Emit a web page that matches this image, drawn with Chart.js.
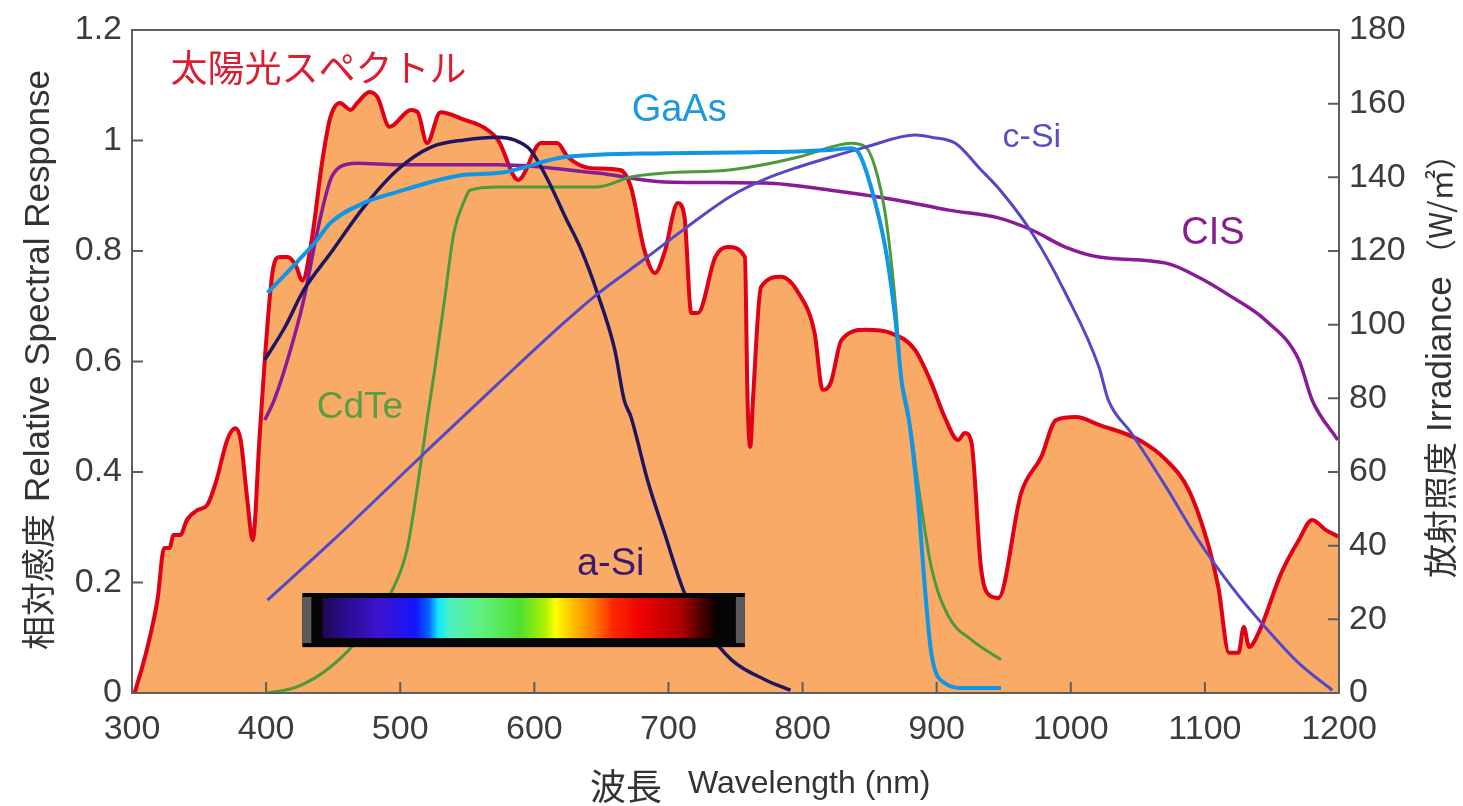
<!DOCTYPE html>
<html lang="ja">
<head>
<meta charset="utf-8">
<title>太陽光スペクトルと太陽電池の分光感度</title>
<script src="https://cdn.jsdelivr.net/npm/chart.js@4.4.1/dist/chart.umd.min.js"></script>
<style>
  html, body { margin: 0; padding: 0; background: #fff; }
  #wrap { width: 1463px; height: 806px; }
</style>
</head>
<body>
<div id="wrap"><canvas id="spectrumChart"></canvas></div>
<script>
////// data //////
// solar spectrum (right axis, W/m2)
const spectrumNm = [302,311,319,324,328,331,336,341,349,356,363,371,377,381,386,390,395,399,405,410,416,422,427,434,442,448,455,463,468,477,483,492,508,513,520,530,548,563,573,588,605,617,625,642,664,672,682,690,697,707,712,717,722,735,744,757,759,761,763,769,784,797,809,815,821,829,847,866,884,896,906,916,921,926,933,939,946,963,978,989,1004,1021,1051,1071,1088,1103,1110,1118,1125,1129,1133,1140,1157,1170,1180,1190,1200];
const spectrumIrr = [0,11.7,25.3,39.4,39.4,42.9,42.9,47,49.7,51,57.8,68.7,71.9,68.7,52.4,41.5,68.7,90.4,114.8,118.4,118.4,116.2,112,123,144.7,156.4,160.2,158.3,160.2,163.2,161.8,153.7,158.3,157.7,149.3,157.7,155.6,153.4,150.1,139.3,149.3,149.3,145.5,142.5,142,137.4,120.3,114,119.5,133,129.2,103.2,103.2,118.4,121.1,118.4,79.5,66.8,79.5,110.2,113,108.6,97.7,82.3,84.2,95.8,98.6,97.7,93.1,84.2,74.9,68.7,70.6,67.9,34.2,26.6,25.8,54.3,64.1,74.1,74.9,72.8,68.7,63.3,55.1,39.6,28.8,10.9,10.9,17.9,12.5,16.3,32.6,41.5,47,44.3,42.4];

// relative spectral response (left axis)
const gaasNm = [401,423,438,448,473,498,523,548,573,623,697,772,821,836,842,851,862,869,874,879,886,892,896,906,921,948];
const gaasResp = [0.724,0.78,0.82,0.851,0.887,0.907,0.925,0.938,0.941,0.97,0.977,0.979,0.983,0.986,0.977,0.916,0.802,0.681,0.561,0.5,0.349,0.168,0.072,0.018,0.009,0.009];

const cdteNm = [401,423,448,473,493,505,515,520,526,533,540,548,552,573,647,672,697,747,797,821,836,847,854,862,869,874,881,886,896,909,926,948];
const cdteResp = [0,0.011,0.047,0.109,0.181,0.259,0.409,0.494,0.59,0.711,0.833,0.892,0.91,0.916,0.916,0.934,0.941,0.947,0.97,0.988,0.995,0.988,0.952,0.862,0.711,0.561,0.471,0.38,0.228,0.138,0.096,0.06];

const asiNm = [399,414,428,448,473,498,523,548,573,585,597,610,623,635,647,660,667,672,685,697,712,727,747,772,791];
const asiResp = [0.603,0.662,0.729,0.796,0.88,0.947,0.988,1.001,1.006,1.001,0.983,0.929,0.862,0.802,0.724,0.621,0.53,0.5,0.38,0.29,0.181,0.119,0.06,0.024,0.005];

const csiNm = [401,448,518,573,623,647,682,712,747,772,797,821,847,884,896,914,933,946,971,996,1021,1028,1045,1071,1095,1120,1145,1170,1195];
const csiResp = [0.168,0.272,0.434,0.56,0.672,0.722,0.785,0.84,0.9,0.93,0.952,0.97,0.988,1.01,1.006,0.995,0.947,0.914,0.833,0.724,0.59,0.53,0.471,0.373,0.277,0.192,0.119,0.054,0.005];

const cisNm = [399,406,416,428,438,448,455,468,498,573,647,697,772,821,871,909,946,971,996,1021,1071,1095,1120,1145,1170,1180,1199];
const cisResp = [0.494,0.53,0.603,0.711,0.833,0.929,0.952,0.959,0.956,0.956,0.941,0.925,0.923,0.91,0.892,0.874,0.86,0.838,0.807,0.789,0.778,0.753,0.717,0.675,0.603,0.53,0.458];

// axis ranges / ticks
const xRange = [300, 1200];
const xStep = 100;
const leftRange = [0, 1.2];
const leftStep = 0.2;
const rightRange = [0, 180];
const rightStep = 20;

// curve labels: [text, wavelength, response, colour, font]
const curveLabels = [
  ['太陽光スペクトル', 439, 1.131, '#dc1e32', '37px "Noto Sans CJK JP"'],
  ['GaAs', 708, 1.055, '#1a98e0', '38px "Liberation Sans"'],
  ['c-Si', 971, 1.006, '#5650c4', '34px "Liberation Sans"'],
  ['CIS', 1106, 0.831, '#8a1c92', '38px "Liberation Sans"'],
  ['CdTe', 470, 0.516, '#5c9c42', '37px "Liberation Sans"'],
  ['a-Si', 657, 0.232, '#3a1a6e', '38px "Liberation Sans"']
];

// visible spectrum strip: colour stops along the strip
const stripColors = ['#1e0850','#2a0c90','#3c14d0','#1414ff','#0a60ff','#10e8ff','#50f0c0','#60f080','#50e030','#b0f000','#ffff00','#ffc000','#ff8000','#ff2a00','#f00000','#b00000','#500000','#100000'];
const stripStops = [0,0.058,0.148,0.237,0.27,0.295,0.326,0.402,0.504,0.567,0.593,0.636,0.687,0.738,0.809,0.911,0.962,1];


////// helpers //////
const zip = (xs, ys) => xs.map((x, i) => ({ x: x, y: ys[i] }));

function cellLine(label, xs, ys, color, width) {
    return {
        label: label,
        data: zip(xs, ys),
        yAxisID: 'y',
        borderColor: color,
        borderWidth: width,
        pointRadius: 0,
        fill: false,
        cubicInterpolationMode: 'monotone',
        order: 1
    };
}

const numFont = '"Liberation Sans", Arial, sans-serif';
const jpFont = '"Noto Sans CJK JP", sans-serif';

////// decorations (frame, inward ticks, titles, labels, colour strip) //////
const decorations = {
    id: 'decorations',
    afterDatasetsDraw(chart) {
        const { ctx, scales } = chart;
        const x = scales.x, y = scales.y;
        ctx.save();

        // colour strip
        const sx0 = x.getPixelForValue(427), sx1 = x.getPixelForValue(757);
        const sy0 = y.getPixelForValue(0.181), sy1 = y.getPixelForValue(0.083);
        ctx.fillStyle = '#050505';
        ctx.fillRect(sx0, sy0, sx1 - sx0, sy1 - sy0);
        ctx.fillStyle = '#5a5a5a';
        ctx.fillRect(sx0, sy0 + 4, 9, sy1 - sy0 - 8);
        ctx.fillRect(sx1 - 9, sy0 + 4, 9, sy1 - sy0 - 8);
        const gx0 = x.getPixelForValue(442), gx1 = x.getPixelForValue(735);
        const gy0 = sy0 + 5, gy1 = sy1 - 9;
        const grad = ctx.createLinearGradient(gx0, 0, gx1, 0);
        stripStops.forEach((s, i) => grad.addColorStop(s, stripColors[i]));
        ctx.fillStyle = grad;
        ctx.fillRect(gx0, gy0, gx1 - gx0, gy1 - gy0);

        // curve labels
        ctx.textAlign = 'center';
        ctx.textBaseline = 'middle';
        curveLabels.forEach(([text, wl, v, color, font]) => {
            ctx.font = font;
            ctx.fillStyle = color;
            ctx.fillText(text, x.getPixelForValue(wl), y.getPixelForValue(v));
        });
        ctx.restore();
    },
    afterDraw(chart) {
        const { ctx, chartArea: a, scales } = chart;
        ctx.save();

        // frame
        ctx.strokeStyle = '#5e5e5e';
        ctx.lineWidth = 2;
        ctx.strokeRect(a.left, a.top, a.right - a.left, a.bottom - a.top);

        // inward tick marks
        ctx.beginPath();
        scales.x.ticks.forEach(t => {
            const px = scales.x.getPixelForValue(t.value);
            ctx.moveTo(px, a.bottom); ctx.lineTo(px, a.bottom - 11);
        });
        scales.y.ticks.forEach(t => {
            const py = scales.y.getPixelForValue(t.value);
            ctx.moveTo(a.left, py); ctx.lineTo(a.left + 11, py);
        });
        scales.y2.ticks.forEach(t => {
            const py = scales.y2.getPixelForValue(t.value);
            ctx.moveTo(a.right, py); ctx.lineTo(a.right - 11, py);
        });
        ctx.stroke();

        // axis titles
        ctx.fillStyle = '#333';
        ctx.textBaseline = 'middle';

        // x title
        ctx.textAlign = 'left';
        ctx.font = '36px ' + jpFont;
        ctx.fillText('波長', 590, 786);
        ctx.font = '32px ' + numFont;
        ctx.fillText('Wavelength (nm)', 688, 784);

        // left title (reads bottom to top)
        ctx.save();
        ctx.translate(38, 650);
        ctx.rotate(-Math.PI / 2);
        ctx.font = '34px ' + jpFont;
        ctx.fillText('相対感度', 0, 0);
        ctx.font = '35px ' + numFont;
        ctx.fillText('Relative Spectral Response', 148, 1);
        ctx.restore();

        // right title (reads bottom to top)
        ctx.save();
        ctx.translate(1440, 578);
        ctx.rotate(-Math.PI / 2);
        ctx.font = '34px ' + jpFont;
        ctx.fillText('放射照度', 0, 0);
        ctx.font = '35px ' + numFont;
        ctx.fillText('Irradiance', 146, 1);
        ctx.font = '31px ' + jpFont;
        ctx.fillText('（W/㎡）', 308, 0);
        ctx.restore();

        ctx.restore();
    }
};

////// chart //////
const canvas = document.querySelector('#spectrumChart');

const spectrumChart = new Chart(canvas, {
    type: 'line',
    data: {
        datasets: [
            cellLine('GaAs', gaasNm, gaasResp, '#0f96e6', 4),
            cellLine('c-Si', csiNm, csiResp, '#5548c8', 3),
            cellLine('a-Si', asiNm, asiResp, '#1e1660', 3.5),
            cellLine('CdTe', cdteNm, cdteResp, '#4c9a3c', 3),
            cellLine('CIS', cisNm, cisResp, '#8a1a98', 3.5),
            {
                label: '太陽光スペクトル',
                data: zip(spectrumNm, spectrumIrr),
                yAxisID: 'y2',
                borderColor: '#e00018',
                borderWidth: 4,
                backgroundColor: 'rgb(248,170,102)',
                fill: 'origin',
                pointRadius: 0,
                cubicInterpolationMode: 'monotone',
                order: 10
            }
        ]
    },
    options: {
        responsive: true,
        maintainAspectRatio: false,
        animation: false,
        layout: { padding: { top: 30, left: 0, right: 0, bottom: 0 } },
        plugins: {
            legend: { display: false },
            tooltip: { enabled: false }
        },
        scales: {
            x: {
                type: 'linear',
                min: xRange[0],
                max: xRange[1],
                grid: { display: false },
                border: { display: false },
                ticks: {
                    stepSize: xStep,
                    autoSkip: false,
                    maxRotation: 0,
                    padding: 8,
                    color: '#3c3c3c',
                    font: { family: numFont, size: 34 },
                    callback: v => String(v)
                },
                afterFit(scale) { scale.height = 113; }
            },
            y: {
                position: 'left',
                min: leftRange[0],
                max: leftRange[1],
                grid: { display: false },
                border: { display: false },
                ticks: {
                    stepSize: leftStep,
                    padding: 2,
                    color: '#3c3c3c',
                    font: { family: numFont, size: 34 },
                    callback: v => String(Number(v.toFixed(2)))
                },
                afterFit(scale) { scale.width = 132; }
            },
            y2: {
                position: 'right',
                min: rightRange[0],
                max: rightRange[1],
                grid: { display: false },
                border: { display: false },
                ticks: {
                    stepSize: rightStep,
                    padding: 2,
                    color: '#3c3c3c',
                    font: { family: numFont, size: 34 }
                },
                afterFit(scale) { scale.width = 124; }
            }
        }
    },
    plugins: [decorations]
});
</script>
</body>
</html>
